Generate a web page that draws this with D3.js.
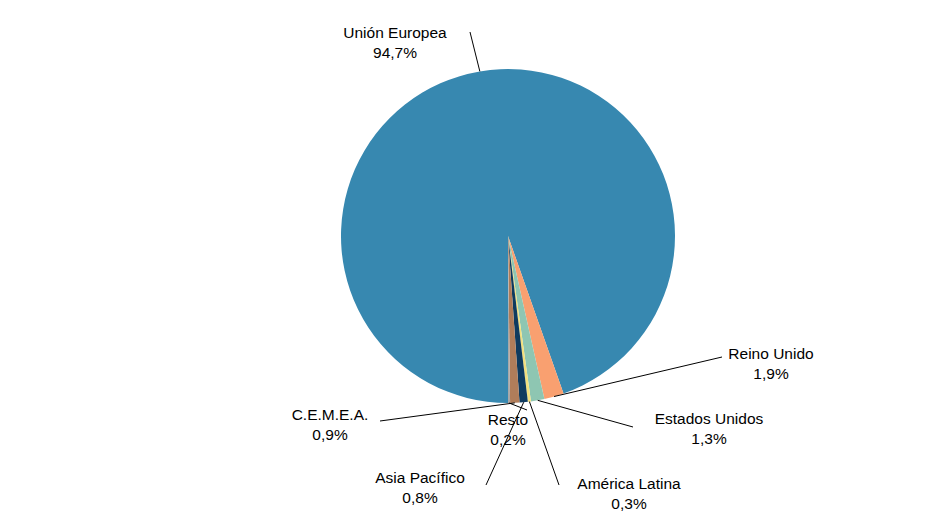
<!DOCTYPE html><html><head><meta charset="utf-8">
<script src="https://cdn.jsdelivr.net/npm/d3@7"></script>
<style>body{margin:0;background:#fff}text{font-family:"Liberation Sans",Arial,sans-serif;font-size:15.5px;fill:#000}</style>
</head><body><svg width="945" height="518"></svg><script>
const categories=["Unión Europea","Reino Unido","Estados Unidos","América Latina","Asia Pacífico","C.E.M.E.A.","Resto"];
const values=[94.7,1.9,1.3,0.3,0.8,0.9,0.2];
const labels=["94,7%","1,9%","1,3%","0,3%","0,8%","0,9%","0,2%"];
const colors=["#3788B0","#F9A070","#8EC6B2","#F2E07E","#0F3B5F","#B07D5A","#A8A8A8"];
// label anchor (text center, first line baseline) and line start
const labelPos=[[395,38,470,32],[771,359,722,357],[709,424,633,427],[629,489,559,485],[420,483,486,485],[330,420,380,421],[508,425,527,410]];
const svg=d3.select("svg"),cx=508,cy=236,r=167;
const g=svg.append("g").attr("transform",`translate(${cx},${cy})`);
const pie=d3.pie().sort(null).startAngle(Math.PI).endAngle(3*Math.PI);
const arcs=pie(values);
const arc=d3.arc().innerRadius(0).outerRadius(r);
g.selectAll("path").data(arcs).join("path").attr("d",arc).attr("fill",(d,i)=>colors[i]);
arcs.forEach((d,i)=>{
  const a=(d.startAngle+d.endAngle)/2;
  const ex=cx+Math.sin(a)*r, ey=cy-Math.cos(a)*r;
  const p=labelPos[i];
  svg.append("line").attr("x1",p[2]).attr("y1",p[3]).attr("x2",ex).attr("y2",ey).attr("stroke","#000").attr("stroke-width",1);
  const t=svg.append("text").attr("text-anchor","middle").attr("x",p[0]).attr("y",p[1]);
  t.append("tspan").attr("x",p[0]).text(categories[i]);
  t.append("tspan").attr("x",p[0]).attr("dy",20).text(labels[i]);
});
</script></body></html>
